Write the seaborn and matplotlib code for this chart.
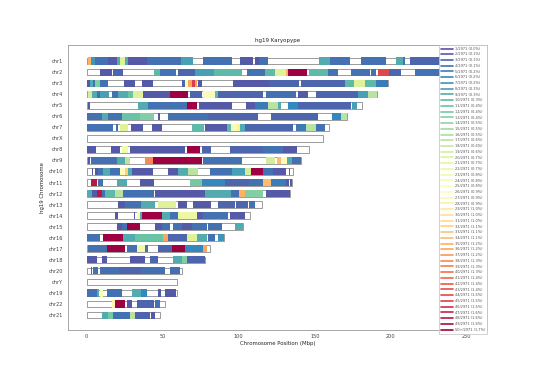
import numpy as np
import pandas as pd
import matplotlib
matplotlib.use("Agg")
import matplotlib.pyplot as plt
import seaborn as sns
from matplotlib.lines import Line2D

# ---------------- data ----------------
chrom_names = ["chr1", "chr2", "chr3", "chr4", "chr5", "chr6", "chr7", "chrX",
               "chr8", "chr9", "chr10", "chr11", "chr12", "chr13", "chr14", "chr15",
               "chr16", "chr17", "chr18", "chr20", "chrY", "chr19", "chr22", "chr21"]
chrom_lengths = [249.25, 243.2, 198.0, 191.15, 180.9, 171.1, 159.1, 155.3,
                 146.4, 141.2, 135.5, 135.0, 133.85, 115.2, 107.3, 102.5,
                 90.35, 81.2, 78.1, 63.0, 59.4, 59.1, 51.3, 48.1]
total_regions = 2971
legend_counts = list(range(1, 51))
x_ticks = [0, 50, 100, 150, 200, 250]

# segments: (start Mbp, end Mbp, region count)
seg_chr1 = [(1.1, 2.8, 35), (2.8, 5.5, 7), (5.5, 14, 4), (14, 20, 2), (20, 22, 9), (22, 25, 20),
            (25, 27.4, 9), (27.4, 40, 2), (40, 54, 4), (54, 62, 4), (62, 70.2, 8), (76.8, 95.4, 4),
            (100.9, 109.6, 2), (110.7, 113, 2), (113, 119, 4), (153, 160, 9), (160, 173, 4),
            (180.7, 197, 4), (203.7, 208, 9), (208, 209, 4), (212.5, 249.2, 3)]
seg_chr2 = [(8.8, 16.5, 2), (17.3, 24, 3), (44, 48, 10), (48, 59, 4), (60, 71, 3), (71, 84, 8),
            (84, 102, 10), (105.3, 117, 4), (117, 124, 10), (124, 131, 20), (131, 132.5, 35),
            (132.5, 145, 50), (146.5, 159, 10), (159, 165, 4), (174, 186, 4), (187, 190, 4),
            (191.5, 199, 44), (199, 207, 3), (216, 243, 4)]
seg_chr3 = [(0, 2.2, 2), (2.2, 4.4, 9), (4.4, 5.5, 4), (5.5, 8.8, 13), (8.8, 14.3, 4), (24.8, 31.8, 2),
            (36.2, 43.9, 2), (62.5, 64.7, 3), (64.7, 66.9, 24), (66.9, 69.1, 36), (69.1, 71.3, 45),
            (71.3, 72.4, 36), (73.5, 75.7, 2), (96.5, 120, 2), (120, 139.5, 3), (141, 170, 3),
            (170, 176, 10), (176, 183, 20), (183, 190, 10), (190, 198, 5)]
seg_chr4 = [(1, 3.3, 19), (3.3, 6.6, 9), (6.6, 8.8, 4), (8.8, 15, 8), (16.4, 20.8, 4), (20.8, 27.4, 9),
            (27.4, 30.7, 11), (30.7, 37.3, 20), (37.3, 54.8, 2), (54.8, 66.9, 50), (68, 75.7, 3),
            (76.8, 84.4, 24), (84.4, 86.6, 10), (86.6, 116, 3), (118, 137.5, 4), (139, 145.6, 2),
            (151, 178.5, 3), (178.5, 185, 8), (185, 191, 17)]
seg_chr5 = [(1.1, 2.2, 2), (34, 40.6, 9), (40.6, 65.8, 4), (65.8, 72.4, 50), (73.9, 95.4, 2),
            (105, 110.5, 2), (110.5, 119, 5), (119, 126, 17), (126, 128, 9), (132.4, 139, 6),
            (139, 174, 3), (174.6, 178, 8)]
seg_chr6 = [(0, 10, 4), (10, 14.3, 9), (14.3, 23, 4), (23, 35, 11), (35, 44, 13), (47, 48, 2),
            (53.3, 80, 4), (80, 112.7, 3), (121.5, 152.2, 3), (161, 167.5, 6), (167.5, 171, 17)]
seg_chr7 = [(0, 17.5, 4), (19.3, 20.8, 4), (21.9, 27.4, 20), (29.2, 37.3, 2), (42.8, 49.3, 2),
            (69, 77, 10), (78, 92, 2), (92, 95, 10), (95, 99, 24), (99, 101, 28), (101, 104, 9),
            (104, 136, 3), (137.5, 144.5, 5), (144.5, 151, 17), (151, 156.6, 4)]
seg_chrX = []
seg_chr8 = [(0, 6, 2), (16, 22, 2), (23, 27.4, 23), (28.5, 64.7, 2), (65.8, 74.6, 50), (75.7, 82, 3),
            (94, 116, 3), (116, 129, 4), (129, 138, 2)]
seg_chr9 = [(1, 2, 2), (2.8, 20, 4), (20, 25, 9), (25, 28.5, 17), (38.4, 43.9, 38), (43.9, 75.7, 50),
            (76.8, 102, 4), (118, 123.7, 19), (125, 128, 34), (128, 132, 26), (132, 135, 9), (135, 141, 4)]
seg_chr10 = [(3.3, 4.4, 2), (5.5, 7.7, 2), (7.7, 11, 4), (11, 15.4, 9), (15.4, 22, 4), (22, 25, 26),
             (25, 27.4, 32), (27.4, 29.6, 9), (29.6, 43.9, 2), (53.7, 60.3, 2), (60.3, 66.9, 9),
             (66.9, 73.5, 17), (81, 95.4, 4), (95.4, 104, 8), (104, 108, 19), (108, 116, 50),
             (116, 122.6, 4), (122.6, 131.4, 2), (133, 134, 4)]
seg_chr11 = [(2.8, 6.6, 48), (7.7, 11, 4), (19.7, 26.3, 9), (35, 44, 2), (68, 75.7, 12), (75.7, 91, 6),
             (91, 107, 3), (107, 116, 4), (116, 121.5, 34), (121.5, 131, 5), (131, 133, 2), (133.5, 135, 2)]
seg_chr12 = [(0, 3.3, 9), (3.3, 6.6, 2), (6.6, 9.9, 48), (9.9, 12.1, 4), (12.1, 18.6, 10), (18.6, 24, 17),
             (24, 44, 4), (45, 78, 2), (78, 95, 9), (95, 100, 4), (100, 104, 35), (104, 116, 13), (118, 134, 2)]
seg_chr13 = [(20.8, 25, 2), (25, 36, 4), (36, 45, 9), (47, 59, 20), (60, 66, 2), (70, 82, 2),
             (86.6, 97.5, 3), (98.5, 106, 3), (107, 111, 4)]
seg_chr14 = [(18.6, 20.8, 2), (31, 32, 2), (32.9, 35, 24), (35, 36.6, 9), (36.6, 49.3, 50), (49.3, 54.8, 9),
             (54.8, 60.3, 4), (60.3, 72.4, 22), (72.4, 76.8, 2), (76.8, 93, 4), (94.3, 104, 2)]
seg_chr15 = [(19.7, 23, 2), (23, 26.3, 4), (26.3, 35, 50), (45, 49.3, 2), (49.3, 54.8, 4), (57, 62.5, 4),
             (62.5, 69, 2), (69, 79, 4), (80, 88.8, 4), (97.6, 102.5, 9)]
seg_chr16 = [(0, 8.8, 4), (11, 24, 50), (24, 32, 9), (32, 50, 11), (50.4, 53.7, 36), (53.7, 66, 3),
             (66, 72.4, 20), (72.4, 79, 9), (80, 84.4, 4), (86.6, 90.3, 7)]
seg_chr17 = [(1, 13.2, 4), (13.2, 25.2, 50), (26.3, 32.9, 4), (32.9, 38.4, 23), (38.4, 40.6, 4),
             (47, 56, 3), (56, 64.7, 50), (64.7, 76.8, 6), (76.8, 79, 36)]
seg_chr18 = [(0, 6.6, 2), (9.9, 13.2, 2), (28.5, 38.4, 2), (41.7, 47, 3), (57, 62.5, 9), (62.5, 65.8, 13),
             (65.8, 78, 3)]
seg_chr20 = [(2.8, 3.6, 2), (4.4, 7.7, 4), (8.8, 21, 4), (21, 36, 3), (36, 51.5, 4), (54.8, 61.4, 4)]
seg_chrY = []
seg_chr19 = [(0, 6.6, 4), (6.6, 8, 9), (9, 11, 24), (13.5, 20.8, 4), (20.8, 23, 4), (29.6, 36, 9),
             (36, 39.5, 6), (47, 49, 2), (51.5, 59, 2)]
seg_chr22 = [(16.4, 18.6, 27), (18.6, 25.2, 50), (26.3, 29.6, 2), (32.9, 44, 3), (45, 48.2, 4)]
seg_chr21 = [(9.9, 14.3, 9), (14.3, 17, 12), (17, 28.5, 4), (28.5, 31.8, 17), (31.8, 41.7, 3), (42.5, 45, 2)]

segments = [seg_chr1, seg_chr2, seg_chr3, seg_chr4, seg_chr5, seg_chr6, seg_chr7, seg_chrX,
            seg_chr8, seg_chr9, seg_chr10, seg_chr11, seg_chr12, seg_chr13, seg_chr14, seg_chr15,
            seg_chr16, seg_chr17, seg_chr18, seg_chr20, seg_chrY, seg_chr19, seg_chr22, seg_chr21]

# ---------------- plot ----------------
sns.set_theme(style="white", context="paper")
plt.rcParams["font.family"] = ["DejaVu Sans"]

fig, ax = plt.subplots(figsize=(5.4, 3.78), dpi=100)
fig.subplots_adjust(left=0.125, right=0.902, bottom=0.127, top=0.881)

df = pd.DataFrame({"chrom": chrom_names, "length": chrom_lengths})
sns.barplot(data=df, y="chrom", x="length", orient="h", color="white", saturation=1,
            edgecolor="0.55", linewidth=0.6, width=0.6, ax=ax, zorder=1)

cmap = plt.get_cmap("Spectral_r")
norm = plt.Normalize(1, 50)
for i, segs in enumerate(segments):
    for s, e, v in segs:
        ax.barh(i, e - s, left=s, height=0.64, color=cmap(norm(v)), linewidth=0, zorder=2)

ax.set_xlim(-12.6, 263.3)
ax.set_ylim(24.35, -1.45)
ax.set_xticks(x_ticks)
ax.set_xticklabels([str(t) for t in x_ticks])

ax.tick_params(axis="both", labelsize=3.6, colors="0.25", length=1.5, width=0.4, pad=1.5)
for sp in ax.spines.values():
    sp.set_color("0.6")
    sp.set_linewidth(0.6)

ax.set_title("hg19 Karyopype", fontsize=4.0, color="0.15", pad=2.5)
ax.set_xlabel("Chromosome Position (Mbp)", fontsize=3.9, color="0.15", labelpad=1.5)
ax.set_ylabel("hg19 Chromosome", fontsize=3.9, color="0.15", labelpad=3)

handles = [Line2D([0], [0], color=cmap(norm(c)), lw=1.2) for c in legend_counts]
labels = []
for c in legend_counts:
    pct = c / total_regions * 100
    lab = f"{c}+/{total_regions} ({pct:.1f}%)" if c == legend_counts[-1] else f"{c}/{total_regions} ({pct:.1f}%)"
    labels.append(lab)
leg = ax.legend(handles, labels, loc="upper right", fontsize=2.5, frameon=True, framealpha=1,
                borderaxespad=0, handlelength=3.4, labelspacing=0.5, borderpad=0.5,
                handletextpad=0.6, edgecolor="0.75", fancybox=False)
leg.get_frame().set_linewidth(0.5)
for t in leg.get_texts():
    t.set_color("0.3")

fig.savefig("out.png", dpi=100)
